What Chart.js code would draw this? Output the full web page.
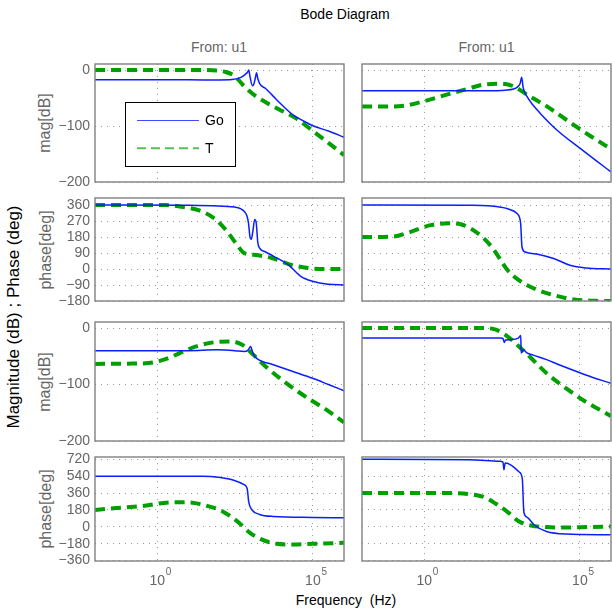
<!DOCTYPE html>
<html>
<head>
<meta charset="utf-8">
<script src="https://cdn.jsdelivr.net/npm/chart.js@4.4.1/dist/chart.umd.min.js"></script>
<style>
  body { margin: 0; width: 612px; height: 612px; position: relative; overflow: hidden; background: #fff;
         font-family: 'Liberation Sans', Arial, sans-serif; }
  canvas { position: absolute; }
  .txt { position: absolute; white-space: pre; font-size: 14px; transform: translate(-50%, -50%); }
  .gray { color: #666; }
  .rot { transform: translate(-50%, -50%) rotate(-90deg); }
</style>
</head>
<body>
<div class="txt" style="left:345px;top:13.5px">Bode Diagram</div>
<div class="txt gray" style="left:219px;top:46.5px">From: u1</div>
<div class="txt gray" style="left:486.5px;top:46.5px">From: u1</div>
<div class="txt gray rot" style="left:45px;top:123px;font-size:16px">mag[dB]</div>
<div class="txt gray rot" style="left:46px;top:250px;font-size:16px">phase[deg]</div>
<div class="txt gray rot" style="left:45px;top:381.5px;font-size:16px">mag[dB]</div>
<div class="txt gray rot" style="left:46px;top:509px;font-size:16px">phase[deg]</div>
<div class="txt rot" style="left:14px;top:317px;font-size:17px">Magnitude (dB) ; Phase (deg)</div>
<div class="txt" style="left:346px;top:600px">Frequency  (Hz)</div>

<script>
// tick values
const freqTicks = [1, 1e5];
const magTicks = [-200, -100, 0];
const phaseTicksA = [-180, -90, 0, 90, 180, 270, 360];
const phaseTicksB = [-360, -180, 0, 180, 360, 540, 720];
const seriesNames = ['Go', 'T'];

// curves as [log10(frequency), value]
const goMagL1 = [[-2,-17.5],[1,-17.5],[2,-17.7],[2.4,-17],[2.65,-14],[2.8,-9],[2.9,-4],[2.94,0],[2.98,-12],[3.06,-28],
  [3.1,-26],[3.16,-12],[3.19,-5],[3.23,-15],[3.3,-25],[3.48,-33],[3.73,-47],[4.0,-62],[4.36,-80],[4.7,-91],[4.98,-99],[5.5,-109],[6,-120]];
const tMagL1 = [[-2,0],[1.5,0],[1.9,-1],[2.2,-3.5],[2.47,-10],[2.65,-20],[2.79,-29],[3.1,-44],[3.5,-58],[3.9,-70],
  [4.45,-86],[4.98,-108],[5.5,-130],[6,-152]];
const goMagR1 = [[-2,-37],[2,-37],[2.6,-36],[2.87,-34],[3.0,-30],[3.08,-24],[3.13,-13],[3.18,-32],[3.3,-47],[3.5,-63],
  [3.72,-77],[4.26,-107],[5.01,-140],[5.5,-161],[6,-182]];
const tMagR1 = [[-2,-65],[-1,-65],[-0.56,-63],[-0.03,-56],[0.72,-44],[1.37,-34],[1.9,-26],[2.44,-24.5],[2.87,-29],
  [3.3,-44],[3.94,-65],[4.8,-98],[5.4,-120],[6,-141]];

const goPhL1 = [[-2,360],[1,359],[1.8,356],[2.48,349],[2.79,326],[2.88,300],[2.93,260],[2.98,180],[3.02,167],[3.07,210],
  [3.13,279],[3.18,260],[3.23,150],[3.29,118],[3.48,96],[3.73,73],[4.23,21],[4.61,-41],[4.99,-69],[5.49,-86],[6,-90]];
const tPhL1 = [[-2,360],[0.27,360],[0.72,352],[1.35,330],[1.85,283],[2.22,217],[2.54,142],[2.79,90],[3.1,80],[3.4,72],
  [3.71,61],[4.28,25],[4.84,6],[5.4,0],[6,0]];
const goPhR1 = [[-2,360],[1.5,359],[2.05,356],[2.68,339],[2.99,311],[3.07,285],[3.1,250],[3.14,124],[3.24,96],[3.68,82],
  [4.18,58],[4.68,21],[5.19,6],[6,0]];
const tPhR1 = [[-2,180],[-1,183],[-0.46,208],[0.17,246],[0.79,258],[1.17,252],[1.67,208],[2.17,124],[2.68,-7],[3.05,-64],
  [3.55,-111],[4.18,-148],[4.81,-172],[5.5,-179],[6,-180]];

const goMagL2 = [[-2,-40],[1,-40],[1.9,-38.6],[2.5,-40],[2.79,-41.5],[2.92,-39],[3.0,-32.6],[3.05,-40],[3.1,-47.5],
  [3.23,-55],[3.73,-65],[4.36,-77],[4.99,-89],[5.5,-100],[6,-111]];
const tMagL2 = [[-2,-63.5],[-0.8,-63],[-0.29,-62],[0.22,-56],[0.72,-44.5],[1.22,-33],[1.85,-25],[2.35,-23.7],[2.73,-29.7],
  [3.1,-48],[3.48,-68],[4.23,-101],[4.86,-125],[5.36,-142],[6,-167]];
const goMagR2 = [[-2,-17.8],[2.45,-17.8],[2.53,-18.5],[2.57,-25.5],[2.61,-21],[2.8,-20.5],[3.02,-18],[3.1,-13],[3.115,-44],
  [3.18,-38.5],[3.3,-44],[3.5,-48],[3.93,-56],[4.37,-66],[5.19,-83],[6,-98]];
const tMagR2 = [[-2,0],[1.92,0],[2.3,-3],[2.68,-15],[3.05,-33],[3.43,-53],[3.93,-80],[4.56,-107],[5.19,-130.6],[5.94,-154],[6,-156]];

const goPhL2 = [[-2,540],[1.47,540],[1.97,529],[2.48,495],[2.79,449],[2.89,406],[2.94,264],[3.04,182],[3.29,132],[3.73,110],
  [4.99,100],[6,96]];
const tPhL2 = [[-2,180],[-1.29,200],[-0.41,225],[0.22,255],[0.97,262],[1.47,235],[2.1,164],[2.6,50],[2.98,-64],[3.35,-135],
  [3.85,-182],[4.35,-189],[5.0,-182],[6,-171]];
const goPhR2 = [[-2,720],[1.42,716],[2.42,699],[2.53,690],[2.56,610],[2.6,680],[2.8,656],[3.05,585],[3.15,513],[3.2,157],
  [3.3,103],[3.55,14],[3.93,-50],[4.56,-78],[6,-86]];
const tPhR2 = [[-2,360],[0.79,360],[1.42,349],[1.92,317],[2.3,246],[2.68,157],[3.05,57],[3.43,14],[3.93,-3],[4.5,-7],
  [5.2,-3],[6,3]];

const GO_COLOR = '#0a1eff';
const T_COLOR = '#00a000';
const GRID_COLOR = '#9a9a9a';
const FRAME_COLOR = '#808080';
const TICK_COLOR = '#666';
const FONT = "'Liberation Sans', Arial, sans-serif";

Chart.defaults.font.family = FONT;
Chart.defaults.font.size = 14;

const rows = [{ top: 64, h: 118 }, { top: 198, h: 103 }, { top: 322, h: 119 }, { top: 457, h: 104 }];
const cols = [{ left: 95, w: 249 }, { left: 362, w: 249 }];

const panels = [
  { row: 0, col: 0, go: goMagL1, t: tMagL1, ticks: magTicks, min: -200, max: 10.8, legend: true },
  { row: 0, col: 1, go: goMagR1, t: tMagR1, ticks: magTicks, min: -200, max: 10.8 },
  { row: 1, col: 0, go: goPhL1, t: tPhL1, ticks: phaseTicksA, min: -180, max: 400 },
  { row: 1, col: 1, go: goPhR1, t: tPhR1, ticks: phaseTicksA, min: -180, max: 400 },
  { row: 2, col: 0, go: goMagL2, t: tMagL2, ticks: magTicks, min: -200, max: 10.7 },
  { row: 2, col: 1, go: goMagR2, t: tMagR2, ticks: magTicks, min: -200, max: 10.7 },
  { row: 3, col: 0, go: goPhL2, t: tPhL2, ticks: phaseTicksB, min: -365, max: 745 },
  { row: 3, col: 1, go: goPhR2, t: tPhR2, ticks: phaseTicksB, min: -365, max: 745 }
];

function toPoints(arr) {
  return arr.map(([e, v]) => ({ x: Math.pow(10, e), y: v }));
}

const framePlugin = {
  id: 'frame',
  afterDatasetsDraw(chart) {
    const { ctx, chartArea: a } = chart;
    ctx.save();
    ctx.strokeStyle = FRAME_COLOR;
    ctx.lineWidth = 1.4;
    ctx.strokeRect(a.left, a.top, a.right - a.left, a.bottom - a.top);
    ctx.restore();
  }
};

const legendPlugin = {
  id: 'boxLegend',
  afterDatasetsDraw(chart) {
    const { ctx, chartArea: a } = chart;
    const x = Math.round(a.left + 30), y = Math.round(a.top + 37.5), w = 110, h = 64;
    ctx.save();
    ctx.fillStyle = '#fff';
    ctx.fillRect(x, y, w, h);
    ctx.strokeStyle = '#000';
    ctx.lineWidth = 1;
    ctx.strokeRect(x + 0.5, y + 0.5, w, h);
    chart.data.datasets.forEach((ds, i) => {
      const ly = y + 18.5 + i * 27.7;
      ctx.beginPath();
      ctx.setLineDash(i ? [9, 5] : []);
      ctx.strokeStyle = i ? '#55c055' : '#3a4cff';
      ctx.lineWidth = i ? 2 : 1.2;
      ctx.moveTo(x + 12, ly);
      ctx.lineTo(x + 74, ly);
      ctx.stroke();
      ctx.setLineDash([]);
      ctx.fillStyle = '#000';
      ctx.font = '14px ' + FONT;
      ctx.textBaseline = 'middle';
      ctx.fillText(ds.label, x + 80, ly + 1);
    });
    ctx.restore();
  }
};

const freqLabelPlugin = {
  id: 'freqLabels',
  afterDraw(chart) {
    const { ctx, chartArea: a, scales: { x } } = chart;
    ctx.save();
    ctx.fillStyle = TICK_COLOR;
    ctx.textBaseline = 'middle';
    freqTicks.forEach(v => {
      const px = x.getPixelForValue(v);
      ctx.font = '14px ' + FONT;
      ctx.textAlign = 'center';
      ctx.fillText('10', px, a.bottom + 20);
      ctx.font = '10px ' + FONT;
      ctx.textAlign = 'left';
      ctx.fillText(String(Math.round(Math.log10(v))), px + 8.5, a.bottom + 11);
    });
    ctx.restore();
  }
};

panels.forEach(p => {
  const col = cols[p.col], row = rows[p.row];
  const padL = p.col === 0 ? 62 : 3, padT = 8, padR = 3, padB = p.row === 3 ? 30 : 8;
  const cv = document.createElement('canvas');
  cv.width = padL + col.w + padR;
  cv.height = padT + row.h + padB;
  cv.style.left = (col.left - padL) + 'px';
  cv.style.top = (row.top - padT) + 'px';
  document.body.appendChild(cv);

  const extra = [framePlugin];
  if (p.legend) extra.push(legendPlugin);
  if (p.row === 3) extra.push(freqLabelPlugin);

  new Chart(cv, {
    type: 'line',
    data: {
      datasets: [
        { label: seriesNames[0], data: toPoints(p.go), borderColor: GO_COLOR, borderWidth: 1.5,
          pointRadius: 0, cubicInterpolationMode: 'monotone', clip: 0 },
        { label: seriesNames[1], data: toPoints(p.t), borderColor: T_COLOR, borderWidth: 4, borderDash: [10, 6],
          pointRadius: 0, cubicInterpolationMode: 'monotone', clip: 0 }
      ]
    },
    options: {
      responsive: false,
      animation: false,
      devicePixelRatio: 1,
      layout: { padding: { left: 0, top: padT, right: padR, bottom: padB } },
      plugins: { legend: { display: false }, tooltip: { enabled: false } },
      scales: {
        x: {
          type: 'logarithmic', min: 1e-2, max: 1e6,
          afterBuildTicks: s => { s.ticks = freqTicks.map(v => ({ value: v })); },
          afterFit: s => { s.height = 0; },
          ticks: { display: false },
          grid: { color: GRID_COLOR, drawTicks: false, lineWidth: 1 },
          border: { display: false, dash: [1, 5] }
        },
        y: {
          min: p.min, max: p.max,
          afterBuildTicks: s => { s.ticks = p.ticks.map(v => ({ value: v })); },
          afterFit: s => { s.width = padL; s.paddingTop = 0; s.paddingBottom = 0; },
          ticks: { display: p.col === 0, autoSkip: false, padding: 5, color: TICK_COLOR,
                   callback: v => String(v).replace('-', '\u2212') },
          grid: { color: GRID_COLOR, drawTicks: false, lineWidth: 1 },
          border: { display: false, dash: [1, 5] }
        }
      }
    },
    plugins: extra
  });
});
</script>
</body>
</html>
